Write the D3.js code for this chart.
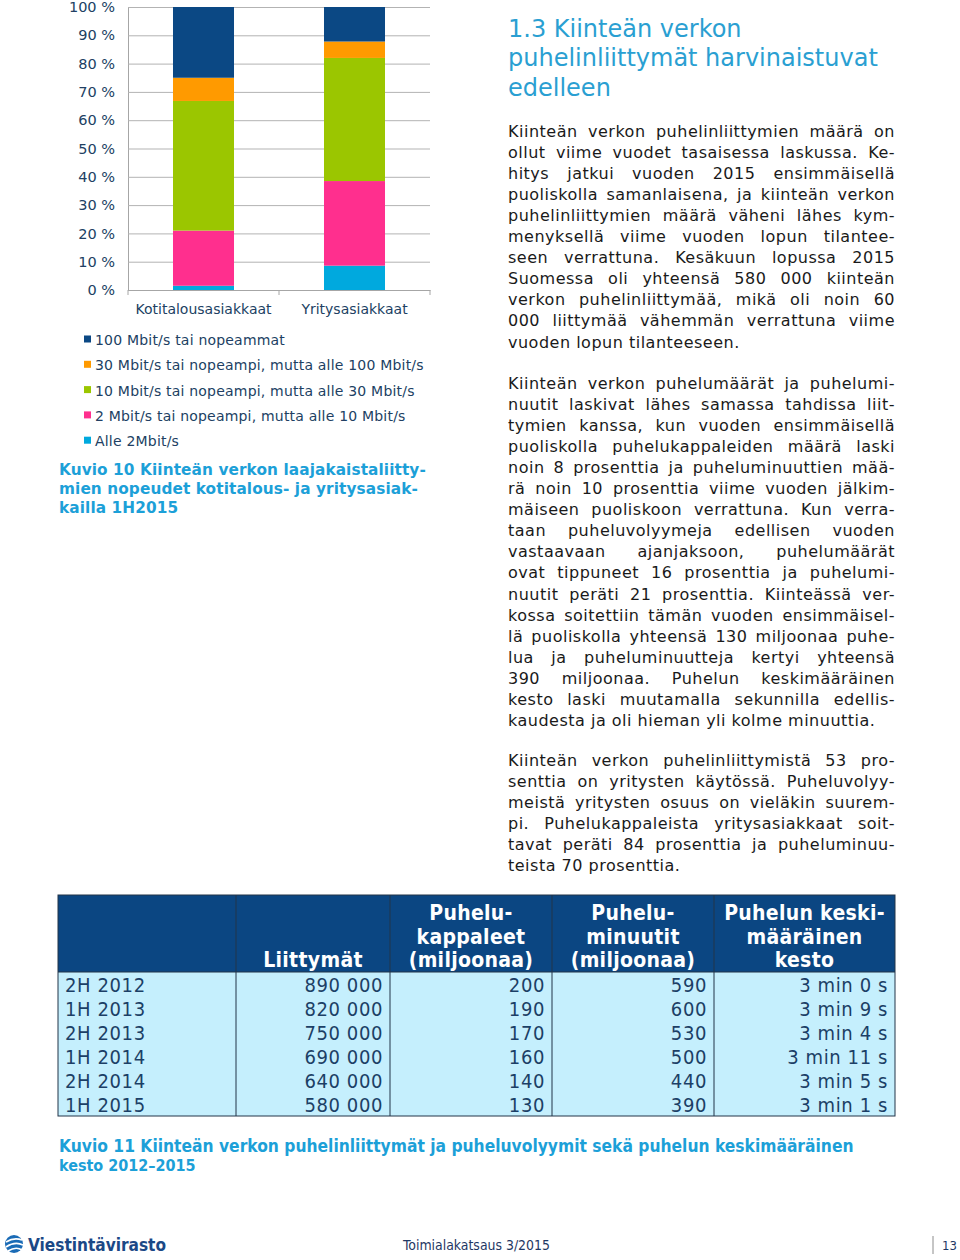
<!DOCTYPE html>
<html>
<head>
<meta charset="utf-8">
<script src="https://cdn.jsdelivr.net/npm/d3@7"></script>
<style>
  body { margin: 0; background: #fff; }
  svg { display: block; }
</style>
</head>
<body>
<script>
// ---- chart data (Kuvio 10) ----
const categories = ["Kotitalousasiakkaat", "Yritysasiakkaat"];
const speedClasses = [
    "Alle 2Mbit/s",
    "2 Mbit/s tai nopeampi, mutta alle 10 Mbit/s",
    "10 Mbit/s tai nopeampi, mutta alle 30 Mbit/s",
    "30 Mbit/s tai nopeampi, mutta alle 100 Mbit/s",
    "100 Mbit/s tai nopeammat"
];
const householdShares = [1.5, 19.5, 45.8, 8.2, 25.0];
const businessShares = [8.6, 29.9, 43.5, 5.8, 12.2];
const speedColors = ["#00a9de", "#ff2f8e", "#9bc600", "#ff9a00", "#0b4884"];
const yTicks = [0, 10, 20, 30, 40, 50, 60, 70, 80, 90, 100];

// ---- table data (Kuvio 11) ----
const periods = ["2H 2012", "1H 2013", "2H 2013", "1H 2014", "2H 2014", "1H 2015"];
const subscriptions = [890000, 820000, 750000, 690000, 640000, 580000];
const callCounts = [200, 190, 170, 160, 140, 130];
const callMinutes = [590, 600, 530, 500, 440, 390];
const avgDuration = ["3 min 0 s", "3 min 9 s", "3 min 4 s", "3 min 11 s", "3 min 5 s", "3 min 1 s"];
const tableHeaders = [
    [],
    ["Liittymät"],
    ["Puhelu-", "kappaleet", "(miljoonaa)"],
    ["Puhelu-", "minuutit", "(miljoonaa)"],
    ["Puhelun keski-", "määräinen", "kesto"]
];

// ---- text ----
const heading = ["1.3 Kiinteän verkon", "puhelinliittymät harvinaistuvat", "edelleen"];
const para1 = [
    "Kiinteän verkon puhelinliittymien määrä on",
    "ollut viime vuodet tasaisessa laskussa. Ke-",
    "hitys jatkui vuoden 2015 ensimmäisellä",
    "puoliskolla samanlaisena, ja kiinteän verkon",
    "puhelinliittymien määrä väheni lähes kym-",
    "menyksellä viime vuoden lopun tilantee-",
    "seen verrattuna. Kesäkuun lopussa 2015",
    "Suomessa oli yhteensä 580 000 kiinteän",
    "verkon puhelinliittymää, mikä oli noin 60",
    "000 liittymää vähemmän verrattuna viime",
    "vuoden lopun tilanteeseen."
];
const para2 = [
    "Kiinteän verkon puhelumäärät ja puhelumi-",
    "nuutit laskivat lähes samassa tahdissa liit-",
    "tymien kanssa, kun vuoden ensimmäisellä",
    "puoliskolla puhelukappaleiden määrä laski",
    "noin 8 prosenttia ja puheluminuuttien mää-",
    "rä noin 10 prosenttia viime vuoden jälkim-",
    "mäiseen puoliskoon verrattuna. Kun verra-",
    "taan puheluvolyymeja edellisen vuoden",
    "vastaavaan ajanjaksoon, puhelumäärät",
    "ovat tippuneet 16 prosenttia ja puhelumi-",
    "nuutit peräti 21 prosenttia. Kiinteässä ver-",
    "kossa soitettiin tämän vuoden ensimmäisel-",
    "lä puoliskolla yhteensä 130 miljoonaa puhe-",
    "lua ja puheluminuutteja kertyi yhteensä",
    "390 miljoonaa. Puhelun keskimääräinen",
    "kesto laski muutamalla sekunnilla edellis-",
    "kaudesta ja oli hieman yli kolme minuuttia."
];
const para3 = [
    "Kiinteän verkon puhelinliittymistä 53 pro-",
    "senttia on yritysten käytössä. Puheluvolyy-",
    "meistä yritysten osuus on vieläkin suurem-",
    "pi. Puhelukappaleista yritysasiakkaat soit-",
    "tavat peräti 84 prosenttia ja puheluminuu-",
    "teista 70 prosenttia."
];
const caption10 = ["Kuvio 10 Kiinteän verkon laajakaistaliitty-", "mien nopeudet kotitalous- ja yritysasiak-", "kailla 1H2015"];
const caption11 = ["Kuvio 11 Kiinteän verkon puhelinliittymät ja puheluvolyymit sekä puhelun keskimääräinen", "kesto 2012\u20132015"];

var font = "'DejaVu Sans', Verdana, sans-serif";
var narrow = "'DejaVu Sans Condensed', 'Liberation Sans Narrow', Roboto, sans-serif";
var navy = "#213f63";
var cyanText = "#1ca0d8";

var svg = d3.select("body").append("svg")
    .attr("width", 960)
    .attr("height", 1260);

// scale a text's font size so it is the given width
function fitWidth(sel, w) {
    var cur = sel.node().getComputedTextLength();
    var fs = parseFloat(sel.style("font-size"));
    sel.style("font-size", (fs * w / cur).toFixed(2) + "px");
}

// ---------- stacked bar chart ----------
var plot = {left: 128, right: 430, top: 7, bottom: 290};

var rows = categories.map(function(c, i) {
    var r = {cat: c};
    var vals = i === 0 ? householdShares : businessShares;
    speedClasses.forEach(function(k, j) { r[k] = vals[j]; });
    return r;
});
var series = d3.stack().keys(speedClasses)(rows);

var x = d3.scaleBand()
    .domain(categories)
    .range([plot.left, plot.right])
    .paddingInner(0.596)
    .paddingOuter(0.298);

var y = d3.scaleLinear()
    .domain([0, 100])
    .range([plot.bottom, plot.top]);

var color = d3.scaleOrdinal().domain(speedClasses).range(speedColors);

// gridlines + y labels
var yAxis = svg.append("g")
    .attr("transform", "translate(" + plot.left + ",0)")
    .call(d3.axisLeft(y)
        .tickValues(yTicks)
        .tickSize(-(plot.right - plot.left))
        .tickPadding(13)
        .tickFormat(function(d) { return d + " %"; }));
yAxis.select(".domain").attr("stroke", "#a6a6a6");
yAxis.selectAll(".tick line").attr("stroke", "#b3b3b3");
yAxis.selectAll(".tick text")
    .style("font", "14.5px " + font)
    .attr("fill", navy);

svg.append("g")
    .selectAll("g")
    .data(series)
    .enter().append("g")
    .attr("fill", function(d) { return color(d.key); })
  .selectAll("rect")
    .data(function(d) { return d; })
    .enter().append("rect")
    .attr("x", function(d) { return x(d.data.cat); })
    .attr("width", x.bandwidth())
    .attr("y", function(d) { return y(d[1]); })
    .attr("height", function(d) { return y(d[0]) - y(d[1]); });

// x axis with ticks at the band edges
var xAxis = svg.append("g")
    .attr("transform", "translate(0," + plot.bottom + ")")
    .call(d3.axisBottom(x).tickSize(0).tickPadding(14));
xAxis.select(".domain").attr("stroke", "#a6a6a6");
xAxis.selectAll(".tick text")
    .style("font", "14px " + font)
    .attr("fill", navy);
xAxis.selectAll(".edge")
    .data(d3.range(categories.length + 1))
    .enter().append("line")
    .attr("x1", function(i) { return plot.left + i * x.step(); })
    .attr("x2", function(i) { return plot.left + i * x.step(); })
    .attr("y1", 0)
    .attr("y2", 5)
    .attr("stroke", "#a6a6a6");

// legend (top-down: fastest first)
var legend = svg.selectAll(".legend")
    .data(speedClasses.slice().reverse())
    .enter().append("g")
    .attr("class", "legend")
    .attr("transform", function(d, i) { return "translate(84," + (340 + i * 25.3) + ")"; });
legend.append("rect")
    .attr("x", 0).attr("y", -4.5)
    .attr("width", 7).attr("height", 7)
    .attr("fill", color);
legend.append("text")
    .attr("x", 11)
    .attr("dy", "0.35em")
    .style("font", "14px " + font)
    .style("letter-spacing", "0.2px")
    .attr("fill", navy)
    .text(function(d) { return d; });

// caption 10
svg.append("g").selectAll("text")
    .data(caption10)
    .enter().append("text")
    .attr("x", 59)
    .attr("y", function(d, i) { return 475 + i * 19; })
    .style("font", "bold 15.3px " + font)
    .style("letter-spacing", "0.1px")
    .attr("fill", cyanText)
    .text(function(d) { return d; });

// ---------- right column text ----------
svg.append("g").selectAll("text")
    .data(heading)
    .enter().append("text")
    .attr("x", 508)
    .attr("y", function(d, i) { return 37 + i * 29.3; })
    .style("font", "24px " + font)
    .attr("fill", "#2a9fd2")
    .text(function(d) { return d; });

function justify(lines, x0, width, y0, lh) {
    var g = svg.append("g")
        .style("font", "16px " + font)
        .style("letter-spacing", "0.5px")
        .attr("fill", "#1a1a1a");
    lines.forEach(function(line, i) {
        var words = line.split(" ");
        var t = g.append("text").attr("y", y0 + i * lh);
        var spans = words.map(function(w) { return t.append("tspan").text(w); });
        var widths = spans.map(function(s) { return s.node().getComputedTextLength(); });
        var total = d3.sum(widths);
        var gap = 5.6;
        if (i < lines.length - 1 && words.length > 1) gap = (width - total) / (words.length - 1);
        var cx = x0;
        spans.forEach(function(s, j) {
            s.attr("x", cx);
            cx += widths[j] + gap;
        });
    });
}
justify(para1, 508, 387, 137, 21.05);
justify(para2, 508, 387, 389, 21.05);
justify(para3, 508, 387, 766, 21.05);

// ---------- table ----------
var colEdges = [58, 236, 390, 552, 714, 895];
var tblTop = 895, headBottom = 972, rowH = 24;
var fmt = d3.formatLocale({decimal: ",", thousands: " ", grouping: [3], currency: ["", " €"]}).format(",d");
var tableRows = periods.map(function(p, i) {
    return [p, fmt(subscriptions[i]), callCounts[i], callMinutes[i], avgDuration[i]];
});
var tblBottom = headBottom + rowH * tableRows.length;

var tbl = svg.append("g");
tbl.append("rect")
    .attr("x", colEdges[0]).attr("y", tblTop)
    .attr("width", colEdges[5] - colEdges[0]).attr("height", headBottom - tblTop)
    .attr("fill", "#0b4682");
tbl.append("rect")
    .attr("x", colEdges[0]).attr("y", headBottom)
    .attr("width", colEdges[5] - colEdges[0]).attr("height", tblBottom - headBottom)
    .attr("fill", "#c5effd");

tableHeaders.forEach(function(lines, c) {
    var cx = (colEdges[c] + colEdges[c + 1]) / 2;
    tbl.selectAll(null)
        .data(lines)
        .enter().append("text")
        .attr("x", cx)
        .attr("y", function(d, i) { return headBottom - 5 - (lines.length - 1 - i) * 23.3; })
        .attr("text-anchor", "middle")
        .style("font", "bold 21px " + narrow)
        .style("letter-spacing", "0.3px")
        .attr("fill", "#fff")
        .text(function(d) { return d; });
});

tableRows.forEach(function(r, i) {
    var yy = headBottom + rowH * i + 20;
    tbl.selectAll(null)
        .data(r)
        .enter().append("text")
        .attr("x", function(d, c) { return c === 0 ? colEdges[0] + 7 : colEdges[c + 1] - 7; })
        .attr("y", yy)
        .attr("text-anchor", function(d, c) { return c === 0 ? "start" : "end"; })
        .style("font", "20px " + narrow)
        .style("letter-spacing", "0.6px")
        .attr("fill", "#1c3f66")
        .text(function(d) { return d; });
});

tbl.selectAll(".sep")
    .data(colEdges.slice(1, -1))
    .enter().append("line")
    .attr("x1", function(d) { return d; }).attr("x2", function(d) { return d; })
    .attr("y1", tblTop).attr("y2", tblBottom)
    .attr("stroke", "#233548");
tbl.append("line")
    .attr("x1", colEdges[0]).attr("x2", colEdges[5])
    .attr("y1", headBottom).attr("y2", headBottom)
    .attr("stroke", "#233548");
tbl.append("rect")
    .attr("x", colEdges[0]).attr("y", tblTop)
    .attr("width", colEdges[5] - colEdges[0]).attr("height", tblBottom - tblTop)
    .attr("fill", "none")
    .attr("stroke", "#233548");

// caption 11
svg.append("g").selectAll("text")
    .data(caption11)
    .enter().append("text")
    .attr("x", 59)
    .attr("y", function(d, i) { return 1152 + i * 19; })
    .style("font", "bold 16px " + narrow)
    .attr("fill", cyanText)
    .text(function(d) { return d; })
    .each(function(d, i) { if (i === 0) fitWidth(d3.select(this), 795); });

// ---------- footer ----------
var logo = svg.append("g").attr("transform", "translate(14,1244)");
logo.append("circle").attr("r", 9).attr("fill", "#1a6bb6");
logo.append("path")
    .attr("d", "M-8,-2 Q0,-7 8,-4 M-8,3 Q1,-3 9,1 M-6,7 Q2,2 8,6")
    .attr("fill", "none").attr("stroke", "#fff").attr("stroke-width", 1.6);
var logoText = svg.append("text")
    .attr("x", 28).attr("y", 1251)
    .style("font", "bold 20px " + narrow)
    .attr("fill", "#1b4886")
    .text("Viestintävirasto");
fitWidth(logoText, 138);

var foot = svg.append("text")
    .attr("x", 403).attr("y", 1250)
    .style("font", "13px " + narrow)
    .attr("fill", "#1f3864")
    .text("Toimialakatsaus 3/2015");
fitWidth(foot, 147);

svg.append("line")
    .attr("x1", 933).attr("x2", 933)
    .attr("y1", 1236).attr("y2", 1254)
    .attr("stroke", "#8c8c8c");
svg.append("text")
    .attr("x", 942).attr("y", 1250)
    .style("font", "13px " + narrow)
    .attr("fill", "#1f3864")
    .text("13");
</script>
</body>
</html>
